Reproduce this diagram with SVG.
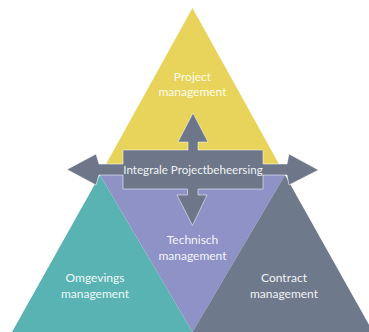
<svg xmlns="http://www.w3.org/2000/svg" width="369" height="332" viewBox="0 0 369 332">
<style>
.lbl{font-family:Lato,"Open Sans","Liberation Sans",sans-serif;font-size:12px;fill:#ffffff;fill-opacity:0.93;text-anchor:middle}
.mid{font-size:11.6px}
.arrow{fill:#6D7789;stroke:#ffffff;stroke-opacity:0.75;stroke-width:0.7;stroke-linejoin:miter}
</style>
<rect width="369" height="332" fill="#ffffff"/>
<g id="project">
<polygon points="192.5,8 100,175 285,175" fill="#E8D45A"/>
<text class="lbl" x="192.5" y="81">Project</text>
<text class="lbl" x="192.5" y="95.5">management</text>
</g>
<g id="omgevings">
<polygon points="100,175 12,332 192.5,332" fill="#5AB3B3"/>
<text class="lbl" x="95" y="282">Omgevings</text>
<text class="lbl" x="95" y="297.5">management</text>
</g>
<g id="technisch">
<polygon points="100,175 285,175 192.5,332" fill="#8E92C7"/>
<text class="lbl" x="192.5" y="244">Technisch</text>
<text class="lbl" x="192.5" y="259.5">management</text>
</g>
<g id="contract">
<polygon points="285,175 192.5,332 373,332" fill="#6E798C"/>
<text class="lbl" x="284" y="282">Contract</text>
<text class="lbl" x="284" y="297.5">management</text>
</g>
<g id="connectors"></g>
<g id="integrale">
<path class="arrow" d="M67,169.5 L96,154 L99,164 L123,164 L123,150 L188,150 L188,142 L178,142 L193,113 L208,142 L198,142 L198,150 L263,150 L263,164 L287,164 L289,154 L318.5,170 L289,185 L287,175 L263,175 L263,189 L198,189 L198,195 L207,195 L192.5,225.5 L177,195 L187.5,195 L187.5,189 L123,189 L123,175 L99,175 L96,185 Z"/>
<text class="lbl mid" x="193" y="173.5">Integrale Projectbeheersing</text>
</g>
</svg>
